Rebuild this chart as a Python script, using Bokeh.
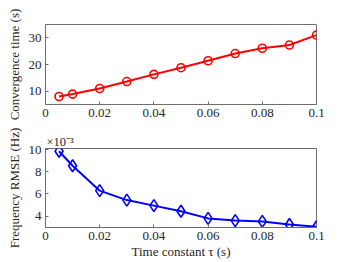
from bokeh.plotting import figure
from bokeh.layouts import column
from bokeh.models import Range1d, FixedTicker, CustomJSTickFormatter
from bokeh.embed import file_html
from bokeh.resources import INLINE

# ---- data ----
tau = [0.005, 0.01, 0.02, 0.03, 0.04, 0.05, 0.06, 0.07, 0.08, 0.09, 0.1]
conv_time = [8.0, 8.9, 11.0, 13.6, 16.3, 18.8, 21.4, 24.1, 26.1, 27.3, 31.0]
rmse_e3 = [9.85, 8.55, 6.3, 5.45, 4.95, 4.45, 3.8, 3.6, 3.53, 3.25, 3.05]  # x 10^-3 Hz
x_ticks = [0, 0.02, 0.04, 0.06, 0.08, 0.1]
top_y_ticks = [10, 20, 30]
bot_y_ticks = [4, 6, 8, 10]

FONT = "Liberation Serif"
TXT = "#262626"
BOX = "#6e6e6e"

xfmt = CustomJSTickFormatter(code="""
let s = tick.toFixed(2);
s = s.replace(/0+$/, '').replace(/\\.$/, '');
return s;
""")


def style(p):
    p.outline_line_color = BOX
    p.outline_line_width = 1
    p.grid.visible = False
    p.background_fill_color = "white"
    p.border_fill_color = "white"
    for ax in p.axis:
        ax.major_tick_in = 3
        ax.major_tick_out = 0
        ax.minor_tick_in = 0
        ax.minor_tick_out = 0
        ax.axis_line_color = BOX
        ax.major_tick_line_color = BOX
        ax.major_label_text_font = FONT
        ax.major_label_text_font_size = "13px"
        ax.major_label_text_color = TXT
        ax.axis_label_text_font = FONT
        ax.axis_label_text_font_style = "normal"
        ax.axis_label_text_font_size = "13px"
        ax.axis_label_text_color = TXT
        ax.major_label_standoff = 4
    p.xaxis.ticker = FixedTicker(ticks=x_ticks)
    p.xaxis.formatter = xfmt


# ---- top panel ----
p1 = figure(width=332, height=126, output_backend="svg", toolbar_location=None,
            x_range=Range1d(0, 0.1), y_range=Range1d(5, 35),
            min_border_left=45, min_border_right=16, min_border_top=24,
            min_border_bottom=22)
style(p1)
p1.yaxis.ticker = FixedTicker(ticks=top_y_ticks)
p1.yaxis.axis_label = "Convergence time (s)"
p1.yaxis.axis_label_standoff = 4
p1.line(tau, conv_time, line_color="#ff0000", line_width=2)
p1.scatter(tau, conv_time, marker="circle", size=8, line_color="#ff0000",
           line_width=1.6, fill_color=None)

# ---- bottom panel ----
p2 = figure(width=332, height=135, output_backend="svg", toolbar_location=None,
            x_range=Range1d(0, 0.1), y_range=Range1d(2.98, 10.1),
            min_border_left=45, min_border_right=16, min_border_top=22,
            min_border_bottom=32, title="×10⁻³")
style(p2)
p2.title.text_font = FONT
p2.title.text_font_size = "12.5px"
p2.title.text_font_style = "normal"
p2.title.text_color = TXT
p2.title.align = "left"
p2.title.standoff = 0
p2.title.offset = 1
p2.yaxis.ticker = FixedTicker(ticks=bot_y_ticks)
p2.yaxis.axis_label = "Frequency RMSE (Hz)"
p2.yaxis.axis_label_standoff = 4
p2.xaxis.axis_label = "Time constant τ (s)"
p2.xaxis.axis_label_standoff = 1
p2.xaxis.major_label_standoff = 4
p2.line(tau, rmse_e3, line_color="#0000ff", line_width=2)
p2.scatter(tau, rmse_e3, marker="diamond", size=12, line_color="#0000ff",
           line_width=1.6, fill_color=None)

layout = column(p1, p2, spacing=0)
open("out.html", "w").write(file_html(layout, INLINE))
